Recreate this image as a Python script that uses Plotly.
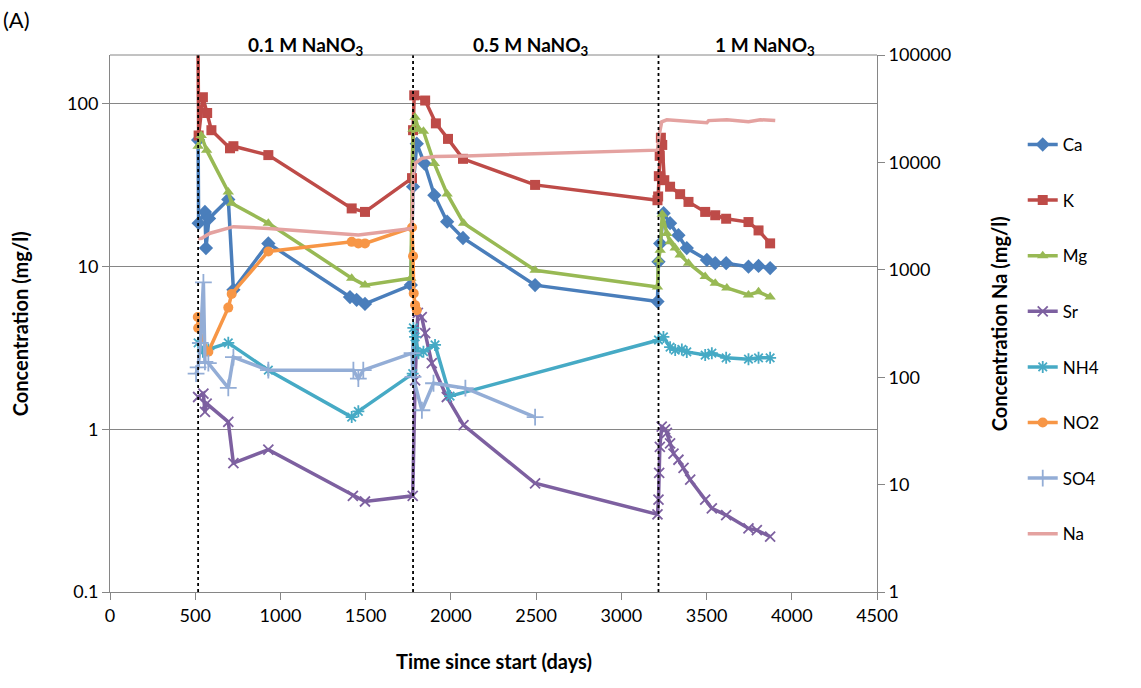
import plotly.graph_objects as go

# ---------------- data ----------------
ca_x = [517, 520, 557, 563, 581, 694, 724, 929, 1408, 1447, 1496, 1765, 1778, 1800, 1845, 1903, 1978, 2071, 2494,
        3212, 3218, 3228, 3248, 3286, 3335, 3384, 3502, 3551, 3615, 3746, 3805, 3873]
ca_y = [60, 18.5, 21.7, 13.0, 19.8, 25.9, 7.2, 13.9, 6.5, 6.25, 5.9, 7.7, 31, 57, 43, 27.5, 18.9, 15.0, 7.7,
        6.1, 10.7, 13.9, 21.3, 18.5, 15.6, 13.0, 11.0, 10.5, 10.5, 10.0, 10.1, 9.8]

k_x = [515, 520, 545, 570, 595, 704, 724, 929, 1418, 1496, 1772, 1778, 1785, 1849, 1912, 1983, 2071, 2494,
       3212, 3216, 3220, 3225, 3232, 3240, 3252, 3286, 3345, 3394, 3492, 3551, 3615, 3746, 3805, 3873]
k_y = [400, 64, 110, 88, 69, 53.4, 55, 48.5, 22.8, 21.7, 35, 69, 113, 105, 76, 61, 46, 31.8,
       25.6, 27, 36, 48, 62, 56, 34, 31, 27.9, 25, 21.7, 20.7, 19.7, 18.8, 16.7, 13.9]

mg_x = [517, 535, 567, 694, 714, 929, 1418, 1496, 1765, 1778, 1790, 1810, 1839, 1903, 1978, 2075, 2494,
        3212, 3218, 3228, 3240, 3267, 3286, 3316, 3345, 3394, 3492, 3551, 3619, 3746, 3805, 3873]
mg_y = [55, 64, 52, 28.8, 24.5, 18.5, 8.5, 7.7, 8.5, 70, 83, 70, 68, 43, 28, 18.5, 9.5,
        7.5, 11, 12.6, 21, 16, 14.2, 13, 11.8, 10.5, 8.7, 7.9, 7.4, 6.7, 7.0, 6.5]

sr_x = [517, 548, 557, 567, 694, 724, 929, 1425, 1496, 1776, 1790, 1806, 1829, 1849, 1888, 1976, 2074, 2494,
        3212, 3218, 3222, 3226, 3237, 3257, 3267, 3286, 3306, 3335, 3365, 3404, 3492, 3531, 3615, 3746, 3795, 3873]
sr_y = [1.58, 1.66, 1.28, 1.44, 1.11, 0.62, 0.75, 0.39, 0.36, 0.39, 2.0, 5.2, 4.9, 3.9, 2.55, 1.58, 1.06, 0.466,
        0.30, 0.37, 0.54, 0.78, 1.04, 1.0, 0.95, 0.82, 0.71, 0.65, 0.58, 0.49, 0.37, 0.327, 0.297, 0.246, 0.24, 0.219]

nh4_x = [517, 545, 577, 694, 929, 1418, 1457, 1776, 1780, 1790, 1810, 1839, 1907, 1995,
         3218, 3247, 3286, 3316, 3355, 3384, 3492, 3531, 3615, 3746, 3805, 3873]
nh4_y = [3.4, 3.0, 3.1, 3.4, 2.31, 1.19, 1.29, 2.2, 4.2, 3.7, 2.94, 3.0, 3.3, 1.6,
         3.54, 3.7, 3.2, 3.07, 3.1, 2.99, 2.86, 2.94, 2.75, 2.7, 2.75, 2.75]

no2_x = [515, 517, 577, 694, 714, 929, 1418, 1457, 1496, 1772, 1778, 1782, 1790, 1800]
no2_y = [4.9, 4.2, 3.0, 5.6, 6.8, 12.4, 14.2, 13.9, 13.9, 17.4, 11.6, 6.85, 5.8, 5.4]

so4_x = [505, 517, 530, 548, 557, 577, 694, 724, 929, 1428, 1457, 1486, 1772, 1778, 1830, 1898, 2085, 2494]
so4_y = [2.2, 2.4, 3.4, 8.0, 2.6, 2.55, 1.8, 2.78, 2.31, 2.31, 2.05, 2.31, 2.94, 2.1, 1.31, 1.92, 1.79, 1.19]

na_x = [517, 538, 587, 724, 929, 1457, 1772, 1778, 1790, 1830, 1907, 2085,
        3212, 3222, 3237, 3267, 3502, 3512, 3619, 3746, 3815, 3903]
na_y = [1950, 1965, 2190, 2520, 2430, 2110, 2430, 7360, 9800, 10900, 11350, 11500,
        13000, 18000, 23900, 24950, 23400, 24500, 24950, 23900, 25000, 24500]

phase_days = [517, 1778, 3218]
phase_labels = ["0.1 M NaNO<sub>3</sub>", "0.5 M NaNO<sub>3</sub>", "1 M NaNO<sub>3</sub>"]
phase_label_pos = [1150, 2470, 3840]

x_ticks = [0, 500, 1000, 1500, 2000, 2500, 3000, 3500, 4000, 4500]
y_left_ticks = [0.1, 1, 10, 100]
y_left_text = ["0.1", "1", "10", "100"]
y_right_ticks = [1, 10, 100, 1000, 10000, 100000]
y_right_text = ["1", "10", "100", "1000", "10000", "100000"]

FONT = "Lato"
GRID = "#868686"

series = [
    ("Ca", ca_x, ca_y, "#4A7EBB", "diamond", 11, None),
    ("K", k_x, k_y, "#BE4B48", "square", 10, None),
    ("Mg", mg_x, mg_y, "#98B954", "triangle-up", 10, None),
    ("Sr", sr_x, sr_y, "#7D60A0", "x-thin-open", 10, 1.8),
    ("NH4", nh4_x, nh4_y, "#46AAC5", "asterisk-open", 10, 1.8),
    ("NO2", no2_x, no2_y, "#F79646", "circle", 10, None),
    ("SO4", so4_x, so4_y, "#93ADD6", "cross-thin-open", 12, 1.8),
]

fig = go.Figure()
for i, (name, xs, ys, col, sym, sz, mlw) in enumerate(series):
    marker = dict(symbol=sym, size=sz, color=col)
    if mlw:
        marker["line"] = dict(color=col, width=mlw)
    fig.add_trace(go.Scatter(
        x=xs, y=ys, name=name, mode="lines+markers",
        line=dict(color=col, width=3.5), marker=marker,
        legendgroup=name, cliponaxis=True))

fig.add_trace(go.Scatter(
    x=na_x, y=na_y, name="Na", mode="lines", yaxis="y2",
    line=dict(color="#E4A2A0", width=3.5), legendgroup="Na"))

shapes = []
for d in phase_days:
    shapes.append(dict(type="line", xref="x", yref="paper", x0=d, x1=d, y0=0, y1=1,
                       line=dict(color="black", width=1.8, dash="dot"), layer="above"))
shapes.append(dict(type="line", xref="paper", yref="paper", x0=0, x1=1, y0=1, y1=1,
                   line=dict(color=GRID, width=1)))

annotations = []
for lab, pos in zip(phase_labels, phase_label_pos):
    annotations.append(dict(x=pos, y=1.045, xref="x", yref="paper", text="<b>" + lab + "</b>",
                            showarrow=False, font=dict(family=FONT, size=19, color="black")))
annotations.append(dict(x=-0.142, y=1.095, xref="paper", yref="paper", text="(A)", xanchor="left",
                        showarrow=False, font=dict(family=FONT, size=22, color="black")))
annotations.append(dict(x=-0.136, y=0.5, xref="paper", yref="paper", text="<b>Concentration (mg/l)</b>",
                        textangle=-90, showarrow=False, font=dict(family=FONT, size=20, color="black")))
annotations.append(dict(x=1.177, y=0.5, xref="paper", yref="paper", text="<b>Concentration Na (mg/l)</b>",
                        textangle=-90, showarrow=False, font=dict(family=FONT, size=20, color="black")))
annotations.append(dict(x=0.5, y=-0.155, xref="paper", yref="paper", text="<b>Time since start (days)</b>",
                        showarrow=False, font=dict(family=FONT, size=20, color="black")))

fig.update_layout(
    width=1141, height=688,
    margin=dict(l=110, r=264, t=55, b=96),
    paper_bgcolor="white", plot_bgcolor="white",
    font=dict(family=FONT, size=18, color="black"),
    showlegend=True,
    legend=dict(x=1.19, y=0.866, xanchor="left", yanchor="top", tracegroupgap=30.5,
                font=dict(family=FONT, size=17), itemwidth=30, bgcolor="rgba(0,0,0,0)"),
    xaxis=dict(range=[0, 4500], tickvals=x_ticks, showgrid=False, zeroline=False,
               showline=True, linecolor=GRID, linewidth=1, ticks="outside", ticklen=7,
               tickcolor=GRID, tickfont=dict(size=18)),
    yaxis=dict(type="log", range=[-1, 2.30103], tickvals=y_left_ticks, ticktext=y_left_text,
               showgrid=True, gridcolor=GRID, gridwidth=1, zeroline=False,
               showline=True, linecolor=GRID, ticks="outside", ticklen=7, tickcolor=GRID,
               tickfont=dict(size=18)),
    yaxis2=dict(type="log", range=[0, 5], overlaying="y", side="right",
                tickvals=y_right_ticks, ticktext=y_right_text, showgrid=False, zeroline=False,
                showline=True, linecolor=GRID, ticks="outside", ticklen=7, tickcolor=GRID,
                tickfont=dict(size=18)),
    shapes=shapes, annotations=annotations,
)

fig.write_html("out.html")
